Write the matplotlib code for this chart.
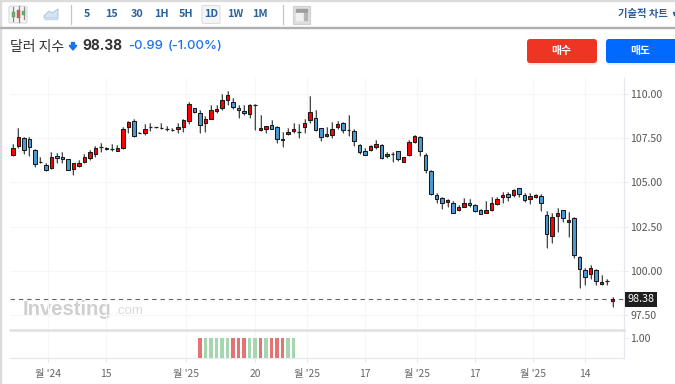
import matplotlib
matplotlib.use('Agg')
import matplotlib.pyplot as plt
from matplotlib.patches import FancyBboxPatch, Rectangle, Polygon

plt.rcParams['font.family'] = ['Noto Sans CJK KR', 'DejaVu Sans']

# daily candles
opens = [106.55, 107.06, 107.49, 107.47, 106.81, 106.14, 105.96, 105.81, 106.47, 106.42,
         106.30, 105.76, 105.95, 106.17, 106.36, 106.59, 107.02, 106.96, 106.87, 106.79,
         106.92, 108.11, 108.45, 107.81, 107.81, 108.15, 108.11, 108.09, 108.04, 107.96,
         108.00, 108.11, 108.49, 109.19, 108.90, 108.34, 108.60, 109.04, 109.19, 109.66,
         109.57, 109.21, 109.06, 108.89, 109.40, 107.96, 108.00, 108.26, 108.11, 107.45,
         107.72, 107.89, 107.85, 108.15, 108.51, 108.66, 108.06, 107.60, 107.70, 108.11,
         108.34, 107.98, 107.91, 107.12, 106.76, 106.81, 107.02, 107.12, 106.48, 106.63,
         106.76, 106.17, 106.53, 107.27, 107.55, 106.57, 105.63, 104.31, 104.12, 103.87,
         103.82, 103.42, 103.63, 103.82, 103.72, 103.42, 103.29, 103.42, 103.78, 104.18,
         104.33, 104.27, 104.66, 104.27, 104.04, 104.17, 104.25, 103.14, 101.99, 103.08,
         103.42, 102.74, 102.97, 100.80, 100.05, 99.80, 100.05, 99.23, 99.40, 98.31]
closes = [106.96, 107.55, 106.81, 107.02, 106.06, 106.13, 105.70, 106.46, 106.36, 106.32,
          105.72, 106.08, 106.11, 106.42, 106.72, 106.96, 107.02, 106.87, 106.87, 106.96,
          108.00, 108.40, 107.60, 107.81, 108.04, 108.15, 108.11, 108.09, 108.04, 107.96,
          108.11, 108.51, 109.41, 108.96, 108.26, 108.57, 109.09, 109.17, 109.64, 109.94,
          109.25, 109.09, 108.94, 109.36, 109.40, 108.06, 108.17, 108.04, 107.47, 107.38,
          107.85, 108.00, 107.85, 108.36, 109.00, 107.96, 107.55, 107.72, 108.04, 108.30,
          107.95, 107.98, 107.32, 106.70, 106.57, 107.06, 107.15, 106.36, 106.63, 106.63,
          106.30, 106.42, 107.27, 107.61, 106.76, 105.72, 104.33, 104.08, 103.84, 103.99,
          103.29, 103.63, 103.82, 103.72, 103.36, 103.23, 103.42, 103.82, 104.08, 104.27,
          104.17, 104.57, 104.33, 104.02, 104.21, 104.27, 103.82, 102.08, 103.02, 103.27,
          102.97, 102.87, 100.88, 100.08, 99.65, 100.16, 99.40, 99.38, 99.40, 98.38]
highs = [107.17, 108.06, 107.55, 107.55, 106.87, 106.42, 106.11, 106.74, 106.64, 106.74,
         106.34, 106.11, 106.27, 106.60, 106.83, 107.06, 107.25, 107.02, 107.17, 107.11,
         108.11, 108.49, 108.58, 107.87, 108.30, 108.34, 108.15, 108.34, 108.17, 108.06,
         108.38, 108.58, 109.53, 109.23, 109.09, 108.76, 109.38, 109.38, 109.98, 110.17,
         109.75, 109.38, 109.38, 109.43, 109.43, 108.81, 108.21, 108.53, 108.19, 107.87,
         108.06, 108.34, 108.30, 108.58, 109.89, 109.09, 108.09, 108.15, 108.43, 108.45,
         108.44, 108.80, 108.00, 107.17, 106.93, 107.12, 107.40, 107.17, 106.70, 106.74,
         106.80, 106.46, 107.40, 107.70, 107.63, 106.65, 105.70, 104.38, 104.19, 104.08,
         103.93, 103.72, 104.10, 104.08, 103.78, 103.48, 103.95, 104.16, 104.19, 104.48,
         104.48, 104.65, 104.68, 104.38, 104.38, 104.34, 104.33, 103.40, 103.25, 103.53,
         103.44, 103.34, 103.02, 100.84, 100.16, 100.31, 100.08, 99.76, 99.52, 98.54]
lows = [106.49, 106.93, 106.60, 106.49, 105.89, 106.08, 105.66, 105.78, 106.12, 106.12,
        105.70, 105.44, 105.85, 106.08, 106.27, 106.42, 106.74, 106.85, 106.79, 106.76,
        106.87, 107.81, 107.55, 107.77, 107.70, 107.92, 108.08, 108.02, 107.92, 107.91,
        107.77, 107.87, 108.28, 108.94, 107.81, 107.87, 108.57, 108.94, 109.09, 109.38,
        109.13, 108.64, 108.81, 108.64, 107.96, 107.92, 107.77, 108.00, 107.25, 106.98,
        107.68, 107.77, 107.51, 107.81, 108.34, 107.92, 107.36, 107.55, 107.53, 108.04,
        107.81, 107.63, 107.06, 106.61, 106.55, 106.78, 106.91, 106.32, 106.38, 106.15,
        106.19, 106.14, 106.49, 107.21, 106.51, 105.55, 104.27, 103.82, 103.52, 103.63,
        103.25, 103.36, 103.59, 103.63, 103.33, 103.19, 103.25, 103.38, 103.74, 103.86,
        103.97, 104.19, 104.19, 103.91, 103.76, 104.10, 103.40, 101.31, 101.55, 102.21,
        102.78, 101.89, 100.71, 99.05, 99.22, 99.54, 99.20, 99.20, 99.22, 97.97]
last_price = 98.38

# lower indicator panel
sub_x = list(range(34, 52))
sub_values = [1.0] * 18
sub_signs = ['r', 'g', 'g', 'g', 'g', 'g', 'r', 'r', 'r', 'g', 'g', 'r', 'g', 'r', 'r', 'r', 'g', 'g']

y_ticks = [97.5, 100, 102.5, 105, 107.5, 110]
y_labels = ['97.50', '100.00', '102.50', '105.00', '107.50', '110.00']
x_ticks = [6.36, 16.9, 31.45, 44.0, 53.4, 64.0, 73.4, 84.0, 94.55, 104.0]
x_labels = ["월 '24", '15', "월 '25", '20', "월 '25", '17', "월 '25", '17', "월 '25", '14']
periods = ['5', '15', '30', '1H', '5H', '1D', '1W', '1M']
period_pos = [87, 112, 137, 161, 186, 211, 235, 260]

W, H = 675, 384
fig = plt.figure(figsize=(W / 100, H / 100), dpi=100, facecolor='white')


def px_axes(l, t, r, b):
    return fig.add_axes([l / W, 1 - b / H, (r - l) / W, (b - t) / H])


# page furniture in pixel coordinates
bg = fig.add_axes([0, 0, 1, 1], zorder=0)
bg.set_xlim(0, W)
bg.set_ylim(H, 0)
bg.axis('off')
bg.add_patch(Rectangle((0, 0), W, 1, color='#dcdcdc'))
bg.add_patch(Rectangle((0, 0), 1.3, H, color='#dcdcdc'))
bg.add_patch(Rectangle((0, 26.6), W, 1, color='#b0b0b0'))
for xd in (70.5, 282.5):
    bg.plot([xd, xd], [5, 23.5], color='#c4c4c4', lw=0.9)

bg.add_patch(FancyBboxPatch((9, 6), 18, 17, boxstyle='round,pad=0,rounding_size=1.5',
                            fc='#f4f4f4', ec='#dadada', lw=0.8))
for xc, top, bot, wt, wb, col in [(13, 12, 17, 7, 21, '#63b463'), (18.5, 10, 18, 6, 22, '#e2534a'),
                                  (23.5, 10.5, 14.5, 7, 19, '#63b463')]:
    bg.plot([xc, xc], [wt, wb], color='#8a8a8a', lw=0.9)
    bg.add_patch(Rectangle((xc - 1.5, top), 3, bot - top, fc=col, ec='#777777', lw=0.3, zorder=3))
bg.add_patch(Polygon([(44, 16), (49, 11), (52, 13), (58, 9), (58, 18), (44, 18)], fc='#d5e3f2', ec='#a9c6e4', lw=0.7))
bg.add_patch(Rectangle((44, 18.5), 14, 0.6, color='#c8d6e6'))

for p, xp in zip(periods, period_pos):
    if p == '1D':
        bg.add_patch(FancyBboxPatch((202, 5.5), 18, 18, boxstyle='round,pad=0,rounding_size=1.5',
                                    fc='#f5f5f5', ec='#dedede', lw=0.8))
    bg.text(xp, 14, p, ha='center', va='center', fontsize=7.8, color='#2a63a0', fontweight='bold')

bg.add_patch(Rectangle((293, 5.5), 17, 18, fc='#dedede', ec='#cfcfcf', lw=0.8))
bg.add_patch(Rectangle((296, 9), 11, 3, color='#9c9c9c'))
bg.add_patch(Rectangle((296, 13), 6.5, 7, color='#f0f0f0'))
bg.add_patch(Rectangle((303.5, 13), 3.5, 7, color='#b5b5b5'))
bg.text(643, 13.5, '기술적 차트', ha='center', va='center', fontsize=7.4, color='#2a5f97', fontweight='bold')
bg.add_patch(Polygon([(673, 12), (675, 12), (675, 15), (674, 15)], color='#2a5f97'))

bg.text(10, 46.5, '달러 지수', ha='left', va='center', fontsize=10, color='#333333')
bg.add_patch(Polygon([(71.5, 42.5), (74.5, 42.5), (74.5, 45.5), (76.8, 45.5), (73, 50), (69.2, 45.5), (71.5, 45.5)], color='#1a73e8'))
bg.text(82.5, 46.5, '98.38', ha='left', va='center', fontsize=9.9, color='#333333', fontweight='bold', family='Inter')
bg.text(128, 46, '-0.99', ha='left', va='center', fontsize=9.4, color='#1a73e8', fontweight='medium', family='Inter')
bg.text(167.5, 46, '(-1.00%)', ha='left', va='center', fontsize=9.4, color='#1a73e8', fontweight='medium', family='Inter')

for xb, wb, xl, col, shadow, label in [(527, 70, 561, '#ee3524', '#f6b8b0', '매수'),
                                       (606, 80, 640, '#0069ff', '#b4d3fb', '매도')]:
    bg.add_patch(FancyBboxPatch((xb, 41), wb, 24, boxstyle='round,pad=0,rounding_size=3',
                                fc=shadow, ec='none', alpha=0.35))
    bg.add_patch(FancyBboxPatch((xb, 39), wb, 24, boxstyle='round,pad=0,rounding_size=3', fc=col, ec='none'))
    bg.text(xl, 51, label, ha='center', va='center', fontsize=7.8, color='white', fontweight='bold')

bg.text(23, 309.5, 'Investing', ha='left', va='center', fontsize=14.6, color='#cfcfcf',
        fontweight='bold', family='Liberation Sans')
bg.text(114.5, 311.5, '.com', ha='left', va='center', fontsize=9.6, color='#dadada', family='Liberation Sans')

# candles
ax = px_axes(10, 78, 624, 329)
ax.set_zorder(2)
ax.patch.set_alpha(0)
ax.set_xlim(-0.545, 111.09)
ax.set_ylim(96.71, 110.9)

for i in range(len(opens)):
    o, c, h, l = opens[i], closes[i], highs[i], lows[i]
    ax.vlines(i, l, h, color='#9a9a9a', lw=1.5, alpha=0.55, zorder=2)
    ax.vlines(i, l, h, color='#444444', lw=0.7, zorder=3)
    if abs(c - o) < 0.02:
        ax.hlines(c, i - 0.35, i + 0.35, color='#222222', lw=0.9, zorder=4)
    else:
        col = '#ff0000' if c > o else '#4a9ad4'
        ax.bar(i, abs(c - o), bottom=min(o, c), width=0.62, color=col, edgecolor='#1a1a1a', lw=0.75, zorder=4)

ax.axhline(last_price, color='#666666', lw=0.8, dashes=(4, 3.5), zorder=1)
ax.set_yticks(y_ticks)
ax.set_yticklabels(y_labels)
ax.yaxis.tick_right()
ax.tick_params(axis='y', length=3, width=0.7, color='#e4e6ee', labelsize=7.6, labelcolor='#555555', pad=1.5)
ax.set_xticks(x_ticks)
ax.tick_params(axis='x', length=0, labelbottom=False)
ax.grid(True, color='#f6f6f9', lw=0.8)
ax.set_axisbelow(True)
for s in ('top', 'left', 'bottom'):
    ax.spines[s].set_visible(False)
ax.spines['right'].set_color('#e6e8f0')
ax.spines['right'].set_linewidth(0.9)

ax.annotate('98.38', xy=(1.0, last_price), xycoords=('axes fraction', 'data'), xytext=(17, 0),
            textcoords='offset pixels', ha='center', va='center', fontsize=7.8, color='white',
            bbox=dict(boxstyle='square,pad=0.22', fc='#1e1e1e', ec='none'), annotation_clip=False)

# lower panel
sub = px_axes(10, 329.5, 624, 358)
sub.set_zorder(2)
sub.patch.set_alpha(0)
sub.set_xlim(ax.get_xlim())
sub.set_ylim(0, 1.447)
sub.bar(sub_x, sub_values, width=0.68, color=['#e57373' if s == 'r' else '#a5d6ae' for s in sub_signs], zorder=3)
sub.set_yticks([1.0])
sub.set_yticklabels(['1.00'])
sub.yaxis.tick_right()
sub.tick_params(axis='y', length=3, width=0.7, color='#e4e6ee', labelsize=7.6, labelcolor='#555555', pad=1.5)
sub.set_xticks(x_ticks)
sub.set_xticklabels(x_labels)
sub.tick_params(axis='x', length=3, width=0.7, color='#e4e6ee', labelsize=7.4, labelcolor='#666666', pad=5)
sub.grid(True, axis='x', color='#f6f6f9', lw=0.8)
sub.set_axisbelow(True)
sub.spines['left'].set_visible(False)
sub.spines['top'].set_color('#e0e0e0')
sub.spines['top'].set_linewidth(1.8)
for s in ('right', 'bottom'):
    sub.spines[s].set_color('#e6e8f0')
    sub.spines[s].set_linewidth(0.9)

fig.savefig('out.png', dpi=100)
